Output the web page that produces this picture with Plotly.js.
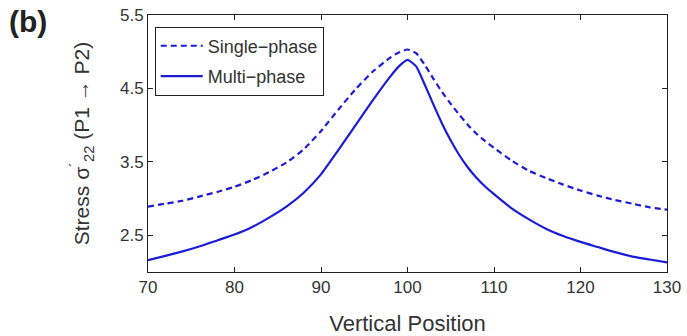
<!DOCTYPE html>
<html>
<head>
<meta charset="utf-8">
<script src="https://cdn.plot.ly/plotly-3.0.1.min.js"></script>
<style>html,body{margin:0;padding:0;background:#fff;}#chart{width:687px;height:336px;}</style>
</head>
<body>
<div id="chart"></div>
<script>
// Data
const positions = [70, 72, 74, 76, 78, 80, 82, 84, 86, 88, 90, 92, 94, 96, 98, 99, 100, 101, 102, 103, 104, 105, 106, 107, 108, 109, 110, 112, 114, 116, 118, 120, 122, 124, 126, 128, 130];
const singlePhase = [2.89, 2.93, 2.97, 3.03, 3.09, 3.16, 3.25, 3.36, 3.49, 3.67, 3.92, 4.21, 4.49, 4.73, 4.92, 4.99, 5.03, 4.98, 4.82, 4.63, 4.45, 4.29, 4.14, 4.00, 3.88, 3.78, 3.69, 3.52, 3.38, 3.28, 3.19, 3.11, 3.04, 2.98, 2.93, 2.88, 2.85];
const multiPhase = [2.16, 2.22, 2.28, 2.35, 2.43, 2.51, 2.61, 2.74, 2.89, 3.08, 3.33, 3.66, 4.00, 4.34, 4.66, 4.80, 4.89, 4.80, 4.55, 4.28, 4.02, 3.79, 3.59, 3.42, 3.28, 3.16, 3.06, 2.87, 2.72, 2.59, 2.49, 2.41, 2.34, 2.27, 2.21, 2.17, 2.13];
const xTicks = [70, 80, 90, 100, 110, 120, 130];
const yTicks = [2.5, 3.5, 4.5, 5.5];
const seriesNames = ['Single\u2212phase', 'Multi\u2212phase'];

const blue = 'rgb(28,28,215)';
const font = 'Arial, "Liberation Sans", sans-serif';

const traces = [
  {x: positions, y: singlePhase, name: seriesNames[0], mode: 'lines', legendgroup: 'a',
   line: {color: blue, width: 2.2, dash: '6px,4px', shape: 'spline', smoothing: 0.5}},
  {x: positions, y: multiPhase, name: seriesNames[1], mode: 'lines', legendgroup: 'b',
   line: {color: blue, width: 2.2, shape: 'spline', smoothing: 0.5}}
];

const axisCommon = {
  showline: true, linecolor: '#222', linewidth: 1, mirror: 'ticks',
  ticks: 'inside', ticklen: 5, tickcolor: '#222', tickwidth: 1,
  showgrid: false, zeroline: false,
  tickfont: {family: font, size: 17, color: '#333'}
};

const layout = {
  width: 687, height: 336,
  margin: {l: 148, r: 20, t: 15, b: 64},
  paper_bgcolor: '#fff', plot_bgcolor: '#fff',
  showlegend: true,
  legend: {x: 0.013, y: 0.955, xanchor: 'left', yanchor: 'top',
    bordercolor: '#222', borderwidth: 1, bgcolor: '#fff',
    font: {family: font, size: 18, color: '#333'},
    itemwidth: 42,
    traceorder: 'grouped', tracegroupgap: 4},
  xaxis: Object.assign({}, axisCommon, {
    range: [70, 130], tickvals: xTicks, ticktext: xTicks.map(String),
    title: {text: 'Vertical Position', font: {family: font, size: 22, color: '#333'}, standoff: 19}
  }),
  yaxis: Object.assign({}, axisCommon, {
    range: [2.0, 5.5], tickvals: yTicks, ticktext: yTicks.map(v => v.toFixed(1)),
    title: {text: 'Stress \u03c3<sup>\u00b4</sup><sub>22</sub> (P1 \u2192 P2)', font: {family: font, size: 21, color: '#333'}, standoff: 24}
  }),
  annotations: [{
    text: '<b>(b)</b>', xref: 'paper', yref: 'paper', x: -0.272, y: 1.045,
    xanchor: 'left', yanchor: 'top', showarrow: false,
    font: {family: font, size: 30, color: '#222'}
  }]
};

Plotly.newPlot('chart', traces, layout, {staticPlot: true, displayModeBar: false});
</script>
</body>
</html>
